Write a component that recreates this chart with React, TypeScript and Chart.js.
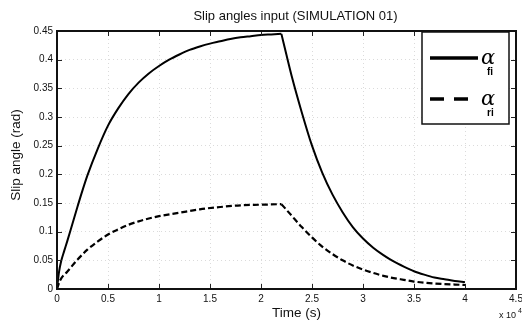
import React, { useEffect, useRef } from "react";
import { Chart, registerables } from "chart.js";

Chart.register(...registerables);

const TITLE = "Slip angles input (SIMULATION 01)";
const X_TITLE = "Time (s)";
const Y_TITLE = "Slip angle (rad)";

// time in units of 10^4 s
const timeFront = [0, 0.02, 0.04, 0.07, 0.1, 0.15, 0.2, 0.25, 0.3, 0.4, 0.5, 0.6, 0.7, 0.8, 0.9, 1.0, 1.1, 1.2, 1.3, 1.4, 1.5, 1.6, 1.7, 1.8, 1.9, 2.0, 2.1, 2.2, 2.25, 2.3, 2.4, 2.5, 2.6, 2.7, 2.8, 2.9, 3.0, 3.1, 3.2, 3.3, 3.4, 3.5, 3.6, 3.7, 3.8, 3.9, 4.0];
const alphaFront = [0, 0.03, 0.048, 0.066, 0.083, 0.113, 0.143, 0.172, 0.199, 0.245, 0.285, 0.315, 0.34, 0.36, 0.376, 0.389, 0.4, 0.409, 0.417, 0.423, 0.428, 0.432, 0.436, 0.439, 0.441, 0.443, 0.444, 0.445, 0.408, 0.372, 0.308, 0.25, 0.203, 0.165, 0.134, 0.108, 0.088, 0.072, 0.059, 0.048, 0.039, 0.031, 0.025, 0.02, 0.017, 0.014, 0.012];

const timeRear = [0, 0.03, 0.1, 0.2, 0.3, 0.4, 0.5, 0.6, 0.7, 0.8, 0.9, 1.0, 1.2, 1.4, 1.6, 1.8, 2.0, 2.2, 2.3, 2.4, 2.5, 2.6, 2.7, 2.8, 2.9, 3.0, 3.1, 3.2, 3.3, 3.4, 3.5, 3.6, 3.7, 3.8, 3.9, 4.0];
const alphaRear = [0, 0.015, 0.03, 0.051, 0.069, 0.083, 0.095, 0.104, 0.112, 0.118, 0.123, 0.127, 0.133, 0.139, 0.143, 0.146, 0.147, 0.148, 0.128, 0.108, 0.09, 0.074, 0.061, 0.05, 0.041, 0.034, 0.028, 0.023, 0.019, 0.016, 0.013, 0.011, 0.0095, 0.0085, 0.0078, 0.007];

const SWITCH_TIME = 2.2; // input switched off here (sharp corner)
const legendSubs = ["fi", "ri"];
const X_MIN = 0, X_MAX = 4.5, X_STEP = 0.5;
const Y_MIN = 0, Y_MAX = 0.45, Y_STEP = 0.05;

const FONT = "'Liberation Sans', Arial, sans-serif";

function pieces(ts: number[], vs: number[]) {
  const pts = ts.map((t, i) => ({ x: t, y: vs[i] }));
  return [pts.filter((p) => p.x <= SWITCH_TIME), pts.filter((p) => p.x >= SWITCH_TIME)];
}

const decorPlugin = {
  id: "decor",
  afterDatasetsDraw(chart: any) {
    const { ctx, chartArea: a, scales } = chart;
    const xs = scales.x, ys = scales.y;
    ctx.save();
    ctx.strokeStyle = "#222";
    ctx.lineWidth = 1;
    ctx.beginPath();
    xs.ticks.forEach((t: any) => {
      const px = Math.round(xs.getPixelForValue(t.value)) + 0.5;
      ctx.moveTo(px, a.bottom); ctx.lineTo(px, a.bottom - 5);
      ctx.moveTo(px, a.top); ctx.lineTo(px, a.top + 5);
    });
    ys.ticks.forEach((t: any) => {
      const py = Math.round(ys.getPixelForValue(t.value)) + 0.5;
      ctx.moveTo(a.left, py); ctx.lineTo(a.left + 5, py);
      ctx.moveTo(a.right, py); ctx.lineTo(a.right - 5, py);
    });
    ctx.stroke();
    ctx.lineWidth = 2;
    ctx.strokeStyle = "#111";
    ctx.strokeRect(a.left, a.top, a.right - a.left, a.bottom - a.top);

    // legend box
    const lw = 87, lh = 92;
    const lx = a.right - 7 - lw, ly = a.top + 1;
    ctx.fillStyle = "#fff";
    ctx.fillRect(lx, ly, lw, lh);
    ctx.lineWidth = 1.5;
    ctx.strokeRect(lx, ly, lw, lh);
    const rows = [ly + 26, ly + 67];
    legendSubs.forEach((sub, i) => {
      const y = rows[i];
      ctx.lineWidth = 3.5;
      ctx.strokeStyle = "#000";
      ctx.setLineDash(i === 0 ? [] : [14, 10]);
      ctx.beginPath();
      ctx.moveTo(lx + 8, y); ctx.lineTo(lx + 56, y);
      ctx.stroke();
      ctx.setLineDash([]);
      ctx.fillStyle = "#000";
      ctx.textBaseline = "alphabetic";
      ctx.textAlign = "left";
      ctx.font = "italic 21px 'DejaVu Serif', serif";
      ctx.fillText("α", lx + 59, y + 6);
      ctx.font = "bold 10px " + FONT;
      ctx.fillText(sub, lx + 65, y + 17);
    });

    ctx.fillStyle = "#111";
    ctx.textAlign = "center";
    ctx.textBaseline = "middle";
    ctx.font = "13px " + FONT;
    ctx.fillText(TITLE, (a.left + a.right) / 2 + 9, 16);
    ctx.font = "13.5px " + FONT;
    ctx.fillText(X_TITLE, (a.left + a.right) / 2 + 10, 313);
    ctx.save();
    ctx.translate(16, 155);
    ctx.rotate(-Math.PI / 2);
    ctx.fillText(Y_TITLE, 0, 0);
    ctx.restore();
    ctx.textAlign = "left";
    ctx.font = "9px " + FONT;
    ctx.fillText("x 10", 499, 316);
    ctx.font = "7px " + FONT;
    ctx.fillText("4", 518, 311);
    ctx.restore();
  },
};

export default function App() {
  const ref = useRef<HTMLCanvasElement | null>(null);
  useEffect(() => {
    document.body.style.margin = "0";
    const canvas = ref.current!;
    const [fRise, fFall] = pieces(timeFront, alphaFront);
    const [rRise, rFall] = pieces(timeRear, alphaRear);
    const solid = { borderColor: "#000", borderWidth: 2, pointRadius: 0, cubicInterpolationMode: "monotone" as const, fill: false };
    const dashed = { ...solid, borderWidth: 2.2, borderDash: [6, 3] };
    const chart = new Chart(canvas, {
      type: "line",
      data: {
        datasets: [
          { label: "alpha_fi", data: fRise, ...solid },
          { label: "alpha_fi (off)", data: fFall, ...solid },
          { label: "alpha_ri", data: rRise, ...dashed },
          { label: "alpha_ri (off)", data: rFall, ...dashed },
        ],
      },
      options: {
        animation: false,
        responsive: true,
        maintainAspectRatio: false,
        layout: { padding: { top: 31, right: 6, left: 0, bottom: 0 } },
        plugins: { legend: { display: false }, title: { display: false }, tooltip: { enabled: false } },
        scales: {
          x: {
            type: "linear",
            min: X_MIN,
            max: X_MAX,
            border: { display: false, dash: [1, 3] },
            grid: { color: "rgba(0,0,0,0.14)", drawTicks: false, lineWidth: 1 },
            ticks: {
              stepSize: X_STEP,
              padding: 4,
              color: "#111",
              font: { family: FONT, size: 10 },
              maxRotation: 0,
              autoSkip: false,
              callback: (v: any) => String(Math.round(Number(v) * 100) / 100),
            },
            afterFit: (s: any) => { s.height = 35; s.paddingLeft = 0; s.paddingRight = 0; },
          },
          y: {
            type: "linear",
            min: Y_MIN,
            max: Y_MAX,
            border: { display: false, dash: [1, 3] },
            grid: { color: "rgba(0,0,0,0.14)", drawTicks: false, lineWidth: 1 },
            ticks: {
              stepSize: Y_STEP,
              padding: 4,
              color: "#111",
              font: { family: FONT, size: 10 },
              autoSkip: false,
              callback: (v: any) => String(Math.round(Number(v) * 100) / 100),
            },
            afterFit: (s: any) => { s.width = 57; s.paddingTop = 0; s.paddingBottom = 0; },
          },
        },
      },
      plugins: [decorPlugin],
    });
    return () => chart.destroy();
  }, []);
  return (
    <div style={{ position: "absolute", left: 0, top: 0, width: 522, height: 324, background: "#fff" }}>
      <canvas ref={ref} />
    </div>
  );
}
